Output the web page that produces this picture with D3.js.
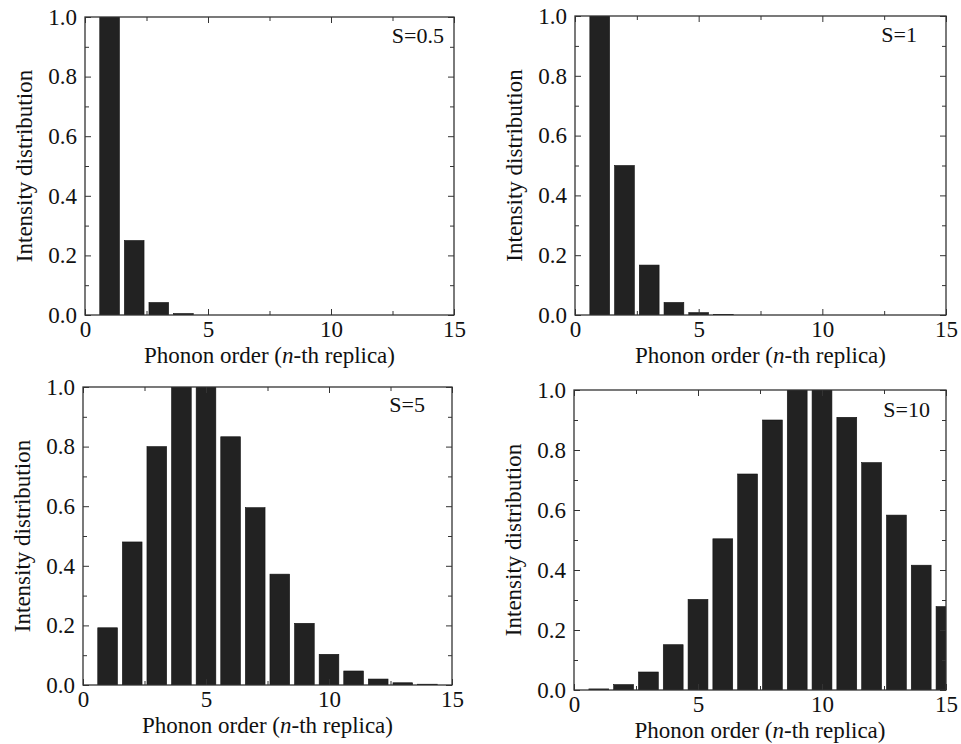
<!DOCTYPE html>
<html>
<head>
<meta charset="utf-8">
<script src="https://cdn.jsdelivr.net/npm/d3@7"></script>
<style>
  body { margin: 0; background: #fff; }
  text { font-family: "Liberation Serif", "Times New Roman", serif; fill: #111; }
</style>
</head>
<body>
<div id="chart"></div>
<script>
// phonon order n and normalized intensities
const orders = [1, 2, 3, 4, 5, 6, 7, 8, 9, 10, 11, 12, 13, 14, 15];
const intensityS05 = [1.0, 0.25, 0.042, 0.005];
const intensityS1 = [1.0, 0.5, 0.167, 0.042, 0.008, 0.0014];
const intensityS5 = [0.192, 0.48, 0.80, 1.0, 1.0, 0.833, 0.595, 0.372, 0.207, 0.103, 0.047, 0.020, 0.0075, 0.0027];
const intensityS10 = [0.0036, 0.018, 0.060, 0.151, 0.302, 0.504, 0.72, 0.90, 1.0, 1.0, 0.909, 0.758, 0.583, 0.416, 0.278];
const panelLabels = ["S=0.5", "S=1", "S=5", "S=10"];
const xMajorTicks = [0, 5, 10, 15];
const xMinorTicks = [2.5, 7.5, 12.5];
const yMajorTicks = [0, 0.2, 0.4, 0.6, 0.8, 1.0];
const yMinorTicks = [0.1, 0.3, 0.5, 0.7, 0.9];

const series = [intensityS05, intensityS1, intensityS5, intensityS10];

// plot boxes in page pixels
const panels = [
  { left: 85, right: 454, top: 17, bottom: 315, labelRight: 444, labelBase: 43 },
  { left: 575, right: 946, top: 16, bottom: 315, labelRight: 917, labelBase: 42 },
  { left: 83, right: 452, top: 387, bottom: 685, labelRight: 425, labelBase: 412 },
  { left: 574, right: 946, top: 390, bottom: 690, labelRight: 930, labelBase: 417 }
];

const svg = d3.select("#chart").append("svg")
  .attr("width", 961)
  .attr("height", 744);

const barColor = "#222";
const lineColor = "#333";

panels.forEach(function(p, i) {
  const w = p.right - p.left;
  const h = p.bottom - p.top;
  const x = d3.scaleLinear().domain([0, 15]).range([0, w]);
  const y = d3.scaleLinear().domain([0, 1]).range([h, 0]);
  const g = svg.append("g").attr("transform", "translate(" + p.left + "," + p.top + ")");

  g.append("clipPath").attr("id", "clip" + i)
    .append("rect").attr("width", w).attr("height", h);

  const data = series[i].map((v, k) => ({ n: orders[k], v: v }));
  const bw = 0.8;
  g.append("g").attr("clip-path", "url(#clip" + i + ")")
    .selectAll("rect")
    .data(data).enter()
    .append("rect")
    .attr("x", d => x(d.n - bw / 2))
    .attr("width", d => x(d.n + bw / 2) - x(d.n - bw / 2))
    .attr("y", d => y(d.v))
    .attr("height", d => h - y(d.v))
    .attr("fill", barColor)
    .attr("stroke", "#111")
    .attr("stroke-width", 0.6);

  function styleAxis(sel) {
    sel.select(".domain").remove();
    sel.selectAll("line").attr("stroke", lineColor).attr("stroke-width", 1);
    sel.selectAll("text").attr("font-size", 23).attr("fill", "#111")
      .style("font-family", "'Liberation Serif', serif");
  }

  // bottom and top
  g.append("g").attr("transform", "translate(0," + h + ")")
    .call(d3.axisBottom(x).tickValues(xMajorTicks).tickSize(-6).tickPadding(6).tickFormat(d3.format("d")))
    .call(styleAxis);
  g.append("g").attr("transform", "translate(0," + h + ")")
    .call(d3.axisBottom(x).tickValues(xMinorTicks).tickSize(-4).tickFormat(""))
    .call(styleAxis);
  g.append("g")
    .call(d3.axisTop(x).tickValues(xMajorTicks).tickSize(-6).tickFormat(""))
    .call(styleAxis);
  g.append("g")
    .call(d3.axisTop(x).tickValues(xMinorTicks).tickSize(-4).tickFormat(""))
    .call(styleAxis);

  // left and right
  g.append("g")
    .call(d3.axisLeft(y).tickValues(yMajorTicks).tickSize(-6).tickPadding(8).tickFormat(d3.format(".1f")))
    .call(styleAxis);
  g.append("g")
    .call(d3.axisLeft(y).tickValues(yMinorTicks).tickSize(-4).tickFormat(""))
    .call(styleAxis);
  g.append("g").attr("transform", "translate(" + w + ",0)")
    .call(d3.axisRight(y).tickValues(yMajorTicks).tickSize(-6).tickFormat(""))
    .call(styleAxis);
  g.append("g").attr("transform", "translate(" + w + ",0)")
    .call(d3.axisRight(y).tickValues(yMinorTicks).tickSize(-4).tickFormat(""))
    .call(styleAxis);

  // frame
  g.append("rect")
    .attr("width", w).attr("height", h)
    .attr("fill", "none")
    .attr("stroke", lineColor)
    .attr("stroke-width", 1.3);

  // axis titles
  const xt = g.append("text")
    .attr("x", w / 2).attr("y", h + 48)
    .attr("text-anchor", "middle")
    .attr("font-size", 23);
  xt.append("tspan").text("Phonon order (");
  xt.append("tspan").attr("font-style", "italic").text("n");
  xt.append("tspan").text("-th replica)");

  g.append("text")
    .attr("transform", "translate(-53," + (h / 2) + ") rotate(-90)")
    .attr("text-anchor", "middle")
    .attr("font-size", 23)
    .text("Intensity distribution");

  svg.append("text")
    .attr("x", p.labelRight).attr("y", p.labelBase)
    .attr("text-anchor", "end")
    .attr("font-size", 22)
    .text(panelLabels[i]);
});
</script>
</body>
</html>
